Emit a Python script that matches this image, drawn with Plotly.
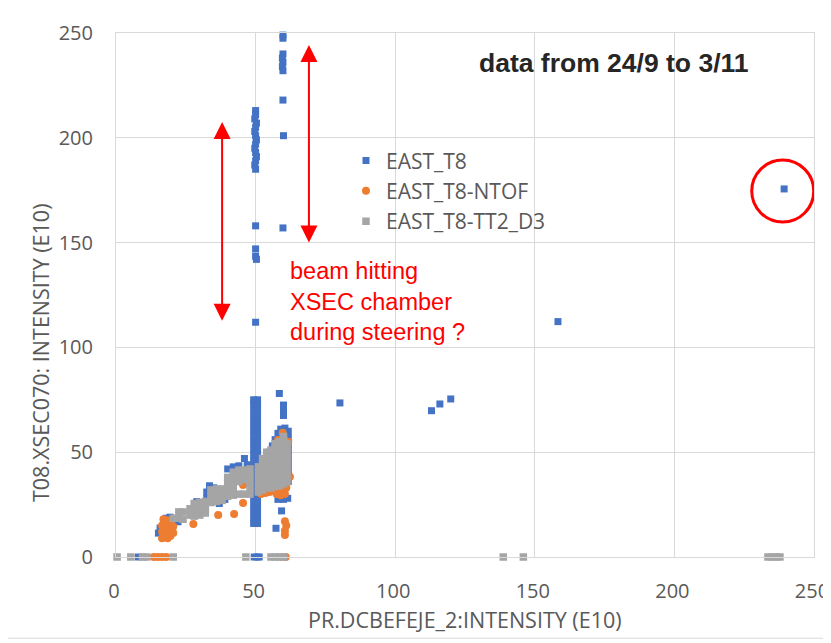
import plotly.graph_objects as go

# ---------------- data ----------------
# EAST_T8 (blue squares)
t8_x = [50, 50, 49.7, 50.3, 50, 49.7, 50, 50.3, 50, 49.7, 50, 50.3, 50, 49.7, 50,
        50, 50, 50, 50.3, 50,
        59.8, 59.8, 59.8, 59.6, 59.8, 59.6, 59.8, 59.8, 60, 59.8,
        80.2, 113, 116, 119.9, 158.3, 239.3,
        49.3, 49.3, 49.3, 49.3, 49.3, 49.3, 49.3, 49.3, 49.3, 49.3, 49.3, 49.3, 49.3, 49.3,
        49.3, 49.3, 49.3, 49.3, 49.3, 49.3, 49.3,
        50.7, 50.7, 50.7, 50.7, 50.7, 50.7, 50.7, 50.7, 50.7, 50.7, 50.7, 50.7, 50.7, 50.7,
        50.7, 50.7, 50.7, 50.7, 50.7, 50.7, 50.7,
        58.5, 60, 60, 60, 55, 56, 57, 58, 59, 60.5, 61.7, 61.7, 61.7, 61.7, 61.7, 61.7,
        61.7, 61.7, 61.7, 58, 60, 61.5, 59.3, 57.3,
        15.2, 15.8, 17, 18, 19.3, 22.2, 28.9, 32.5, 32.5, 33.5, 35, 39, 37, 40, 42, 44,
        46, 47, 47.5, 47.5,
        8, 49.5, 50.5, 51.3]
t8_y = [213, 211, 209, 207, 205, 203, 201, 199, 197, 195, 193, 191, 189, 187, 185,
        158, 147, 143.5, 142, 112,
        249, 247.5, 240, 238, 236, 234, 232, 218, 201, 157,
        73.5, 69.8, 73, 75.4, 112.3, 175.6,
        16, 19, 22, 25, 28, 31, 34, 37, 40, 43, 46, 49, 52, 55, 58, 61, 64, 67, 70, 73, 75,
        16, 19, 22, 25, 28, 31, 34, 37, 40, 43, 46, 49, 52, 55, 58, 61, 64, 67, 70, 73, 75,
        78, 72.5, 70, 67.5, 50, 53, 56, 59, 61, 61.5, 60, 57, 54, 51, 48, 45,
        42, 39, 36, 27.5, 27.5, 28, 22, 13.7,
        11.4, 13.8, 16.5, 18.5, 19, 16.8, 26.4, 28, 31, 34, 33, 27.5, 25.5, 42, 43, 43.5,
        47, 44, 40, 37,
        0, 0, 0, 0]

# EAST_T8-NTOF (orange circles)
ntof_x = [16.5, 16.5, 16.5, 17.5, 17.5, 17.5, 18.5, 18.5, 18.5, 18.5, 19.5, 19.5, 19.5,
          20.5, 20.5, 17,
          27.7, 36.6, 42.3, 45.5, 45.5,
          52, 53.5, 55, 56, 57.5, 59, 60.5, 61, 59, 62.3,
          58, 59.7, 61.7,
          60.5, 60.5, 61, 60.5,
          13.5, 15, 16.5, 18, 60.8]
ntof_y = [9, 12, 15, 10, 13, 16, 9, 12, 15, 17.5, 10, 13, 16,
          11.5, 14.5, 18,
          15.7, 20, 20.5, 25.8, 34.4,
          30, 30.5, 31, 32, 30, 29.5, 30, 33, 32.5, 38.3,
          55.8, 59.3, 55,
          10.5, 12.5, 15, 17,
          0, 0, 0, 0, 0]

# EAST_T8-TT2_D3 (grey squares)
d3_x = [20.5, 22.5, 22.5, 24, 24, 26.5, 26.5, 28, 28, 28, 30, 30, 30, 32, 32, 32,
        34, 34, 34, 36, 36, 36, 38, 38, 38, 40, 40, 40, 40,
        42, 42, 42, 42, 42, 44, 44, 44, 44, 46, 46, 46, 46, 48, 48, 48, 48, 48,
        51, 51, 51, 51, 51, 52.5, 52.5, 52.5, 52.5, 52.5, 52.5,
        54, 54, 54, 54, 54, 54, 54, 55.5, 55.5, 55.5, 55.5, 55.5, 55.5, 55.5,
        57, 57, 57, 57, 57, 57, 57, 57, 58.5, 58.5, 58.5, 58.5, 58.5, 58.5, 58.5, 58.5,
        60, 60, 60, 60, 60, 60, 60, 60, 60, 61.3, 61.3, 61.3, 61.3, 61.3, 61.3, 61.3,
        0.4, 5.3, 9.5, 11, 20.5, 46.5, 55.5, 57, 58.5, 60, 138.7, 145.9,
        233.5, 235, 236.5, 237.8]
d3_y = [18.5, 18.5, 21.5, 18, 21.5, 20, 23, 19.5, 22.5, 25.5, 20, 23, 26, 21, 24, 26.5,
        26, 29, 32, 26.5, 29.5, 32.5, 27, 30, 32.5, 29, 32, 35, 38,
        29.5, 32.5, 35.5, 38.5, 40.5, 30, 36, 39, 41.5, 30, 37, 39, 41.5, 30, 33, 36, 39, 42,
        31, 34, 37, 40, 43, 32, 35, 38, 41, 44, 47,
        33, 36, 39, 42, 45, 48, 50, 33, 36, 39, 42, 45, 48, 51,
        34, 37, 40, 43, 46, 49, 52, 54, 34, 37, 40, 43, 46, 49, 52, 55,
        35, 38, 41, 44, 47, 50, 53, 56, 57.5, 36, 39, 42, 45, 48, 51, 54,
        0, 0, 0, 0, 0, 0, 0, 0, 0, 0, 0, 0,
        0, 0, 0, 0]

series_names = ["EAST_T8", "EAST_T8-NTOF", "EAST_T8-TT2_D3"]
tick_vals = [0, 50, 100, 150, 200, 250]

# ---------------- figure ----------------
GREY_TXT = "#595959"
GRID = "#d9d9d9"
FONT = "Open Sans"

fig = go.Figure()
fig.add_trace(go.Scatter(x=t8_x, y=t8_y, mode="markers", name=series_names[0],
                         marker=dict(symbol="square", size=7, color="#4472C4"),
                         cliponaxis=False))
fig.add_trace(go.Scatter(x=ntof_x, y=ntof_y, mode="markers", name=series_names[1],
                         marker=dict(symbol="circle", size=8, color="#ED7D31"),
                         cliponaxis=False))
fig.add_trace(go.Scatter(x=d3_x, y=d3_y, mode="markers", name=series_names[2],
                         marker=dict(symbol="square", size=7.5, color="#A5A5A5"),
                         cliponaxis=False))

axis_common = dict(range=[0, 250], tickvals=tick_vals, showgrid=True, gridcolor=GRID,
                   gridwidth=1, zeroline=False, showline=True, linecolor=GRID,
                   linewidth=1, mirror=True, ticks="", automargin=False,
                   tickfont=dict(family=FONT, size=20, color=GREY_TXT))

fig.update_layout(
    width=823, height=635,
    margin=dict(l=108, r=17, t=25, b=86),
    paper_bgcolor="white", plot_bgcolor="white",
    xaxis=dict(**axis_common, ticklabelstandoff=16, ticklabelshift=-2),
    yaxis=dict(**axis_common, ticklabelstandoff=18),
    showlegend=True,
    legend=dict(x=0.3295, y=0.795, xanchor="left", yanchor="top",
                bgcolor="rgba(0,0,0,0)", traceorder="normal",
                font=dict(family=FONT, size=21, color=GREY_TXT)),
    annotations=[
        dict(text="PR.DCBEFEJE_2:INTENSITY (E10)", xref="paper", yref="paper",
             x=0.5, y=-0.12, xanchor="center", yanchor="middle", showarrow=False,
             font=dict(family=FONT, size=21.5, color=GREY_TXT)),
        dict(text="T08.XSEC070: INTENSITY (E10)", xref="paper", yref="paper",
             x=-0.109, y=0.391, xanchor="center", yanchor="middle", showarrow=False,
             textangle=-90, font=dict(family=FONT, size=21.5, color=GREY_TXT)),
        dict(text="<b>data from 24/9 to 3/11</b>", xref="paper", yref="paper",
             x=0.713, y=0.942, xanchor="center", yanchor="middle", showarrow=False,
             font=dict(family="Liberation Sans", size=26.5, color="#262626")),
        dict(text="beam hitting<br>XSEC chamber<br>during steering ?", xref="paper",
             yref="paper", x=0.246, y=0.487, xanchor="left", yanchor="middle",
             align="left", showarrow=False,
             font=dict(family="Liberation Sans", size=23.5, color="#FF0000")),
        # double-headed arrows
        dict(x=38, y=207.5, ax=38, ay=112, xref="x", yref="y", axref="x", ayref="y",
             text="", showarrow=True, arrowhead=2, startarrowhead=2,
             arrowside="end+start", arrowsize=1.7, startarrowsize=1.7,
             arrowwidth=2, arrowcolor="#FF0000"),
        dict(x=69.1, y=244.3, ax=69.1, ay=149.3, xref="x", yref="y", axref="x", ayref="y",
             text="", showarrow=True, arrowhead=2, startarrowhead=2,
             arrowside="end+start", arrowsize=1.7, startarrowsize=1.7,
             arrowwidth=2, arrowcolor="#FF0000"),
    ],
    shapes=[
        dict(type="circle", xref="x", yref="y", x0=227.7, x1=249.9, y0=159.8, y1=189.4,
             line=dict(color="#FF0000", width=3)),
        dict(type="rect", xref="paper", yref="paper", x0=-0.159, x1=1.017,
             y0=-0.155, y1=1.057, line=dict(color=GRID, width=1), layer="below"),
    ],
)

fig.write_html("out.html")
